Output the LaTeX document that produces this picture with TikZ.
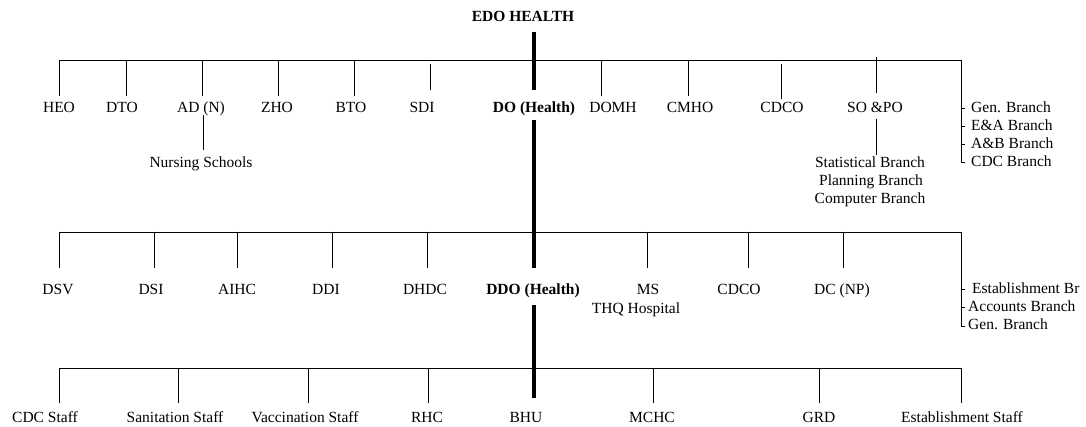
\documentclass[tikz,border=0pt]{standalone}
\usepackage{fontspec}
\setmainfont{Liberation Serif}
\begin{document}
\begin{tikzpicture}[x=1pt,y=-1pt,
  lbl/.style={anchor=base, inner sep=0pt, font=\fontsize{15.5}{18}\selectfont},
  hd/.style={lbl, font=\fontsize{15.5}{18}\selectfont\bfseries},
  listitem/.style={lbl, anchor=base west},
  link/.style={line width=0.8pt, line cap=rect},
  spine/.style={line width=4.2pt},
]
\useasboundingbox (0,0) rectangle (1086,427);

% ---------- head and main spine ----------
\node[hd] (edo) at (523,22) {EDO HEALTH};
\node[hd] (do) at (534,113) {DO (Health)};
\node[hd] (ddo) at (533,295) {DDO (Health)};
\coordinate (sp1a) at (534,32);  \coordinate (sp1b) at (534,90);
\coordinate (sp2a) at (534,120); \coordinate (sp2b) at (534,268);
\coordinate (sp3a) at (534,305); \coordinate (sp3b) at (534,398);
\draw[spine] (sp1a) -- (sp1b);
\draw[spine] (sp2a) -- (sp2b);
\draw[spine] (sp3a) -- (sp3b);

% ---------- first level ----------
\coordinate (bus1w) at (59,60);
\coordinate (bus1e) at (961,60);
\coordinate (br1end) at (961,162);
\draw[link] (bus1w) -- (bus1e) -- (br1end) -- ++(4,0);
\foreach \n/\lx/\t/\dx/\a/\b in {
  heo/59/HEO/59/60/96,
  dto/122/DTO/126/60/96,
  adn/201/AD (N)/202/60/96,
  zho/277/ZHO/278/60/96,
  bto/351/BTO/354/60/96,
  sdi/422/SDI/430/64/90,
  domh/613/DOMH/601/60/96,
  cmho/690/CMHO/688/61/96,
  cdco/782/CDCO/781/64/99,
  sopo/875/SO \&PO/876/57/93}{
  \node[lbl] (\n) at (\lx,113) {\t};
  \coordinate (\n-t) at (\dx,\a);
  \coordinate (\n-b) at (\dx,\b);
  \draw[link] (\n-t) -- (\n-b);
}
% nursing schools under AD (N)
\node[lbl] (nurs) at (201,168) {Nursing Schools};
\coordinate (nurs-t) at (203,115); \coordinate (nurs-b) at (203,150);
\draw[link] (nurs-t) -- (nurs-b);
% branches under SO & PO
\node[lbl] (stat) at (870,168) {Statistical Branch};
\node[lbl] (plan) at (871,186) {Planning Branch};
\node[lbl] (comp) at (870,204) {Computer Branch};
\coordinate (sopo-st) at (876,119); \coordinate (sopo-sb) at (876,155);
\draw[link] (sopo-st) -- (sopo-sb);
% office branches, first level
\foreach \n/\y/\t in {gen1/113/Gen. Branch, ea/131/E\&A Branch, ab/149/A\&B Branch, cdcb/167/CDC Branch}{
  \node[listitem] (\n) at (971,\y) {\t};
}
\foreach \y in {108,126,144}{
  \coordinate (tk) at (961,\y);
  \draw[link] (tk) -- ++(4,0);
}

% ---------- second level ----------
\coordinate (bus2w) at (59,232);
\coordinate (bus2e) at (961,232);
\coordinate (br2end) at (961,326);
\draw[link] (bus2w) -- (bus2e) -- (br2end) -- ++(4,0);
\foreach \n/\lx/\t/\dx in {
  dsv/58/DSV/59,
  dsi/151/DSI/154,
  aihc/237/AIHC/237,
  ddi/326/DDI/332,
  dhdc/425/DHDC/427,
  ms/648/MS/647,
  cdcotwo/739/CDCO/748,
  dcnp/842/DC (NP)/843}{
  \node[lbl] (\n) at (\lx,295) {\t};
  \coordinate (\n-t) at (\dx,232);
  \coordinate (\n-b) at (\dx,268);
  \draw[link] (\n-t) -- (\n-b);
}
\node[lbl] (thq) at (636,313) {THQ Hospital};
\node[listitem] (estb) at (972,294) {Establishment Br};
\node[listitem] (acc) at (968,312) {Accounts Branch};
\node[listitem] (gen2) at (968,330) {Gen. Branch};
\foreach \y in {289,307}{
  \coordinate (tk) at (961,\y);
  \draw[link] (tk) -- ++(4,0);
}

% ---------- third level ----------
\coordinate (bus3w) at (59,368);
\coordinate (bus3e) at (961,368);
\draw[link] (bus3w) -- (bus3e);
\node[lbl] (bhu) at (526,422) {BHU};
\foreach \n/\lx/\t/\dx in {
  cdcs/45/CDC Staff/59,
  sans/175/Sanitation Staff/178,
  vacs/305/Vaccination Staff/308,
  rhc/427/RHC/428,
  mchc/652/MCHC/653,
  grd/819/GRD/819,
  ests/962/Establishment Staff/961}{
  \node[lbl] (\n) at (\lx,422) {\t};
  \coordinate (\n-t) at (\dx,368);
  \coordinate (\n-b) at (\dx,403);
  \draw[link] (\n-t) -- (\n-b);
}
\end{tikzpicture}
\end{document}
